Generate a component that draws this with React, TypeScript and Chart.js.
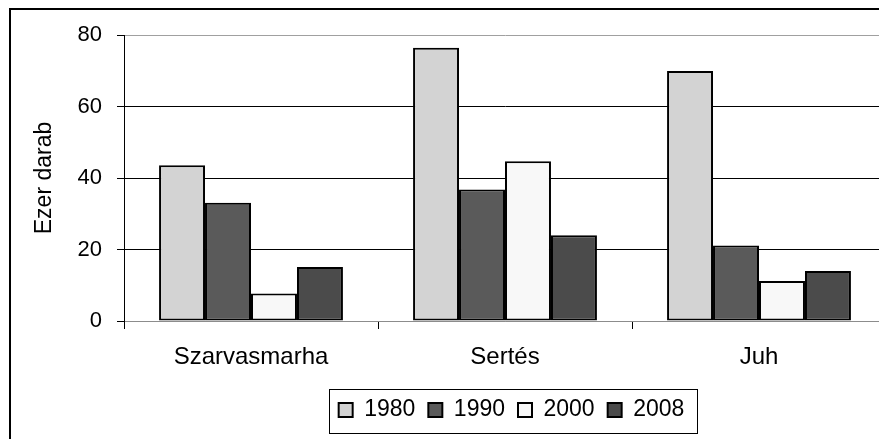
import React, { useEffect, useRef } from "react";
import { Chart, registerables } from "chart.js";

Chart.register(...registerables);

const categories = ["Szarvasmarha", "Sertés", "Juh"];
const seriesNames = ["1980", "1990", "2000", "2008"];
const values1980 = [43.6, 76.4, 69.9];
const values1990 = [33.1, 36.8, 21.1];
const values2000 = [7.7, 44.7, 11.2];
const values2008 = [15.1, 24.0, 14.0];
const yTicks = [0, 20, 40, 60, 80];
const yTitle = "Ezer darab";

const colors = ["#d3d3d3", "#5a5a5a", "#f8f8f8", "#4b4b4b"];
const FONT = "'Liberation Sans', Arial, sans-serif";

const W = 900;
const H = 445;

export default function App() {
  const ref = useRef<HTMLCanvasElement | null>(null);

  useEffect(() => {
    if (!ref.current) return;
    const seriesValues = [values1980, values1990, values2000, values2008];

    const framePlugin = {
      id: "frame",
      beforeDraw(chart: any) {
        const ctx = chart.ctx;
        ctx.save();
        ctx.fillStyle = "#ffffff";
        ctx.fillRect(0, 0, chart.width, chart.height);
        ctx.restore();
      },
      afterLayout(chart: any) {
        const lg = chart.legend;
        if (lg) {
          lg.left += 6.5;
          lg.right += 6.5;
        }
      },
      afterDraw(chart: any) {
        const ctx = chart.ctx;
        ctx.save();
        ctx.strokeStyle = "#000";
        ctx.lineWidth = 2;
        ctx.strokeRect(10, 9, chart.width - 20, chart.height - 5);
        const lg = chart.legend;
        if (lg && lg.legendHitBoxes && lg.legendHitBoxes.length) {
          const hb = lg.legendHitBoxes;
          const first = hb[0];
          const last = hb[hb.length - 1];
          const cy = first.top + first.height / 2;
          ctx.lineWidth = 1;
          ctx.strokeRect(
            Math.round(first.left - 10) + 0.5,
            Math.round(cy - 21) + 0.5,
            Math.round(last.left + last.width + 12 - (first.left - 10)),
            44
          );
        }
        ctx.restore();
      },
    };

    const chart = new Chart(ref.current, {
      type: "bar",
      data: {
        labels: categories,
        datasets: seriesNames.map((name, i) => ({
          label: name,
          data: seriesValues[i],
          backgroundColor: colors[i],
          borderColor: "#000",
          borderWidth: 2,
          borderSkipped: false,
          categoryPercentage: 0.724,
          barPercentage: 1,
        })),
      },
      options: {
        animation: false,
        responsive: false,
        maintainAspectRatio: false,
        layout: { padding: { left: 0, top: 35, right: W - 886, bottom: 13.5 } },
        plugins: {
          tooltip: { enabled: false },
          legend: {
            position: "bottom",
            fullSize: false,
            labels: {
              boxWidth: 14,
              boxHeight: 14,
              padding: 13,
              color: "#000",
              font: { family: FONT, size: 23 },
            },
          },
        },
        scales: {
          x: {
            afterFit(scale: any) {
              scale.height = 64.5;
            },
            border: { display: true, color: "#8c8c8c", width: 1 },
            grid: {
              offset: true,
              drawOnChartArea: false,
              drawTicks: true,
              tickLength: 8,
              color: "#000",
              tickColor: "#000",
            },
            ticks: {
              color: "#000",
              padding: 14,
              font: { family: FONT, size: 24 },
              maxRotation: 0,
            },
          },
          y: {
            min: 0,
            max: 80,
            afterFit(scale: any) {
              scale.width = 124;
            },
            afterBuildTicks(scale: any) {
              scale.ticks = yTicks.map((v) => ({ value: v }));
            },
            border: { display: true, color: "#000", width: 1 },
            grid: {
              color: (ctx: any) =>
                ctx.tick && ctx.tick.value === 80
                  ? "#a0a0a0"
                  : ctx.tick && ctx.tick.value === 0
                  ? "#8c8c8c"
                  : "#000",
              tickColor: "#000",
              tickLength: 7,
              lineWidth: 1,
            },
            ticks: {
              color: "#000",
              padding: 15,
              font: { family: FONT, size: 22 },
            },
            title: {
              display: true,
              text: yTitle,
              color: "#000",
              font: { family: FONT, size: 23 },
              padding: { top: 31.2, bottom: 0 },
            },
          },
        },
      },
      plugins: [framePlugin],
    });
    return () => chart.destroy();
  }, []);

  return (
    <div
      style={{
        position: "fixed",
        left: 0,
        top: 0,
        width: 879,
        height: 439,
        overflow: "hidden",
        background: "#fff",
      }}
    >
      <canvas ref={ref} width={W} height={H} style={{ display: "block", width: W, height: H }} />
    </div>
  );
}
